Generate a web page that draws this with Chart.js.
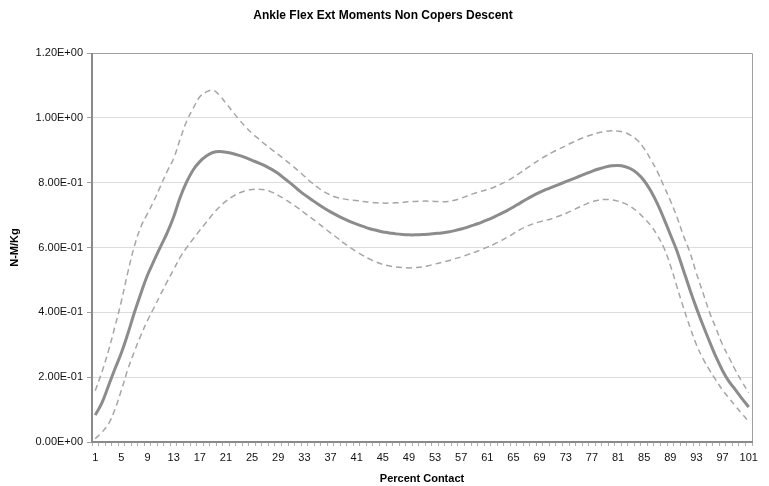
<!DOCTYPE html>
<html>
<head>
<meta charset="utf-8">
<script src="https://cdn.jsdelivr.net/npm/chart.js@4/dist/chart.umd.min.js"></script>
<style>
  html, body { margin: 0; padding: 0; background: #fff; }
  #wrap { width: 769px; height: 486px; }
</style>
</head>
<body>
<div id="wrap"><canvas id="c" width="769" height="486"></canvas></div>
<script>
// Percent of contact phase, 1..101
const percentContact = Array.from({ length: 101 }, (_, i) => String(i + 1));

// Mean ankle flexion/extension moment (N-M/Kg)
const meanMoment = [
  0.083, 0.12, 0.172, 0.225, 0.275, 0.335, 0.40, 0.46, 0.515, 0.56,
  0.603, 0.645, 0.695, 0.755, 0.803, 0.84, 0.865, 0.882, 0.893, 0.896,
  0.894, 0.89, 0.884, 0.877, 0.869, 0.861, 0.852, 0.841, 0.828, 0.812,
  0.796, 0.779, 0.763, 0.749, 0.735, 0.722, 0.71, 0.699, 0.689, 0.68,
  0.672, 0.665, 0.658, 0.653, 0.648, 0.645, 0.642, 0.64, 0.639, 0.639,
  0.64, 0.641, 0.643, 0.645, 0.648, 0.652, 0.657, 0.663, 0.67, 0.677,
  0.685, 0.694, 0.704, 0.714, 0.725, 0.737, 0.749, 0.76, 0.77, 0.779,
  0.787, 0.795, 0.803, 0.811, 0.819, 0.827, 0.835, 0.842, 0.848, 0.852,
  0.853, 0.85, 0.842, 0.828, 0.806, 0.775, 0.736, 0.69, 0.64, 0.59,
  0.53, 0.47, 0.413, 0.36, 0.31, 0.262, 0.22, 0.186, 0.16, 0.133,
  0.108
];

// Upper band (mean + SD)
const upperMoment = [
  0.158, 0.215, 0.28, 0.355, 0.435, 0.525, 0.605, 0.665, 0.705, 0.745,
  0.79, 0.835, 0.875, 0.935, 0.99, 1.03, 1.065, 1.08, 1.085, 1.07,
  1.045, 1.02, 0.995, 0.972, 0.952, 0.935, 0.918, 0.902, 0.887, 0.871,
  0.855, 0.838, 0.82, 0.802, 0.786, 0.772, 0.762, 0.754, 0.75, 0.747,
  0.745, 0.742, 0.74, 0.738, 0.737, 0.737, 0.738, 0.739, 0.741, 0.742,
  0.743, 0.743, 0.742, 0.741, 0.742, 0.746, 0.752, 0.76, 0.767, 0.773,
  0.779, 0.786, 0.795, 0.805, 0.817, 0.83, 0.844, 0.858, 0.871, 0.883,
  0.894, 0.904, 0.914, 0.924, 0.933, 0.941, 0.948, 0.954, 0.958, 0.96,
  0.959, 0.955, 0.945, 0.93, 0.905, 0.872, 0.835, 0.79, 0.745, 0.695,
  0.637, 0.585, 0.52, 0.46, 0.40, 0.35, 0.30, 0.26, 0.22, 0.185,
  0.152
];

// Lower band (mean - SD)
const lowerMoment = [
  0.01, 0.03, 0.055, 0.1, 0.16, 0.225, 0.28, 0.33, 0.375, 0.415,
  0.455, 0.495, 0.532, 0.57, 0.60, 0.627, 0.653, 0.678, 0.703, 0.725,
  0.743, 0.757, 0.768, 0.775, 0.779, 0.78, 0.778, 0.771, 0.761, 0.749,
  0.736, 0.722, 0.707, 0.692, 0.677, 0.661, 0.645, 0.63, 0.614, 0.6,
  0.587, 0.575, 0.564, 0.555, 0.548, 0.543, 0.54, 0.538, 0.537, 0.538,
  0.54, 0.544, 0.549, 0.554, 0.559, 0.565, 0.571, 0.578, 0.585, 0.593,
  0.601, 0.61, 0.62, 0.631, 0.643, 0.655, 0.665, 0.673, 0.679, 0.684,
  0.69, 0.697, 0.705, 0.714, 0.724, 0.733, 0.741, 0.746, 0.748, 0.747,
  0.743, 0.736, 0.725, 0.71, 0.69, 0.668, 0.638, 0.60, 0.545, 0.48,
  0.415, 0.355, 0.30, 0.257, 0.222, 0.19, 0.16, 0.135, 0.11, 0.086,
  0.063
];

const yTicks = [0, 0.2, 0.4, 0.6, 0.8, 1.0, 1.2];

function sci(v) {
  if (Math.abs(v) < 1e-12) return '0.00E+00';
  let e = Math.floor(Math.log10(Math.abs(v)) + 1e-9);
  let m = v / Math.pow(10, e);
  const sign = e < 0 ? '-' : '+';
  const ea = Math.abs(e);
  return m.toFixed(2) + 'E' + sign + (ea < 10 ? '0' + ea : ea);
}

const FONT = '"Liberation Sans", Arial, sans-serif';

const framePlugin = {
  id: 'frame',
  afterDraw(chart) {
    const { ctx, chartArea: a } = chart;
    ctx.save();
    ctx.strokeStyle = '#a0a0a0';
    ctx.lineWidth = 1;
    ctx.beginPath();
    ctx.moveTo(a.left, a.top + 0.5);
    ctx.lineTo(a.right + 0.5, a.top + 0.5);
    ctx.lineTo(a.right + 0.5, a.bottom);
    ctx.stroke();
    ctx.strokeStyle = '#8a8a8a';
    ctx.lineWidth = 2;
    ctx.beginPath();
    ctx.moveTo(a.left, a.top);
    ctx.lineTo(a.left, a.bottom);
    ctx.lineTo(a.right + 1, a.bottom);
    ctx.stroke();
    ctx.fillStyle = '#000';
    ctx.font = 'bold 12px ' + FONT;
    ctx.textAlign = 'center';
    ctx.textBaseline = 'middle';
    ctx.fillText('Ankle Flex Ext Moments Non Copers Descent', 383, 16);
    ctx.restore();
  }
};

new Chart(document.getElementById('c'), {
  type: 'line',
  data: {
    labels: percentContact,
    datasets: [
      {
        label: 'Upper',
        data: upperMoment,
        borderColor: '#a6a6a6',
        borderWidth: 1.5,
        borderDash: [6, 4],
        pointRadius: 0,
        tension: 0.4,
        fill: false
      },
      {
        label: 'Mean',
        data: meanMoment,
        borderColor: '#8c8c8c',
        borderWidth: 3,
        pointRadius: 0,
        tension: 0.4,
        fill: false
      },
      {
        label: 'Lower',
        data: lowerMoment,
        borderColor: '#a6a6a6',
        borderWidth: 1.5,
        borderDash: [6, 4],
        pointRadius: 0,
        tension: 0.4,
        fill: false
      }
    ]
  },
  options: {
    responsive: false,
    animation: false,
    devicePixelRatio: 1,
    layout: { padding: { left: 0, right: 17, top: 53, bottom: 0 } },
    plugins: {
      legend: { display: false },
      title: { display: false },
      tooltip: { enabled: false }
    },
    scales: {
      x: {
        type: 'category',
        offset: true,
        grid: {
          offset: true,
          drawOnChartArea: false,
          drawTicks: true,
          tickLength: 4,
          color: '#b0b0b0'
        },
        border: { display: false },
        ticks: {
          autoSkip: false,
          maxRotation: 0,
          minRotation: 0,
          padding: 5,
          color: '#111',
          font: { family: FONT, size: 11 },
          callback(val, idx) { return idx % 4 === 0 ? percentContact[idx] : ''; }
        },
        title: {
          display: true,
          text: 'Percent Contact',
          color: '#000',
          font: { family: FONT, size: 11, weight: 'bold' },
          padding: { top: 2, bottom: 0 }
        },
        afterFit(scale) { scale.height = 44; }
      },
      y: {
        min: 0,
        max: 1.2,
        afterBuildTicks(scale) { scale.ticks = yTicks.map(v => ({ value: v })); },
        grid: {
          color: '#dcdcdc',
          lineWidth: 1,
          drawTicks: true,
          tickLength: 5,
          tickColor: '#a0a0a0'
        },
        border: { display: false },
        ticks: {
          padding: 4,
          color: '#111',
          font: { family: FONT, size: 11 },
          callback(v) { return sci(v); }
        },
        title: {
          display: true,
          text: 'N-M/Kg',
          color: '#000',
          font: { family: FONT, size: 11, weight: 'bold' },
          padding: { top: 8, bottom: 0 }
        },
        afterFit(scale) { scale.width = 92; }
      }
    }
  },
  plugins: [framePlugin]
});
</script>
</body>
</html>
